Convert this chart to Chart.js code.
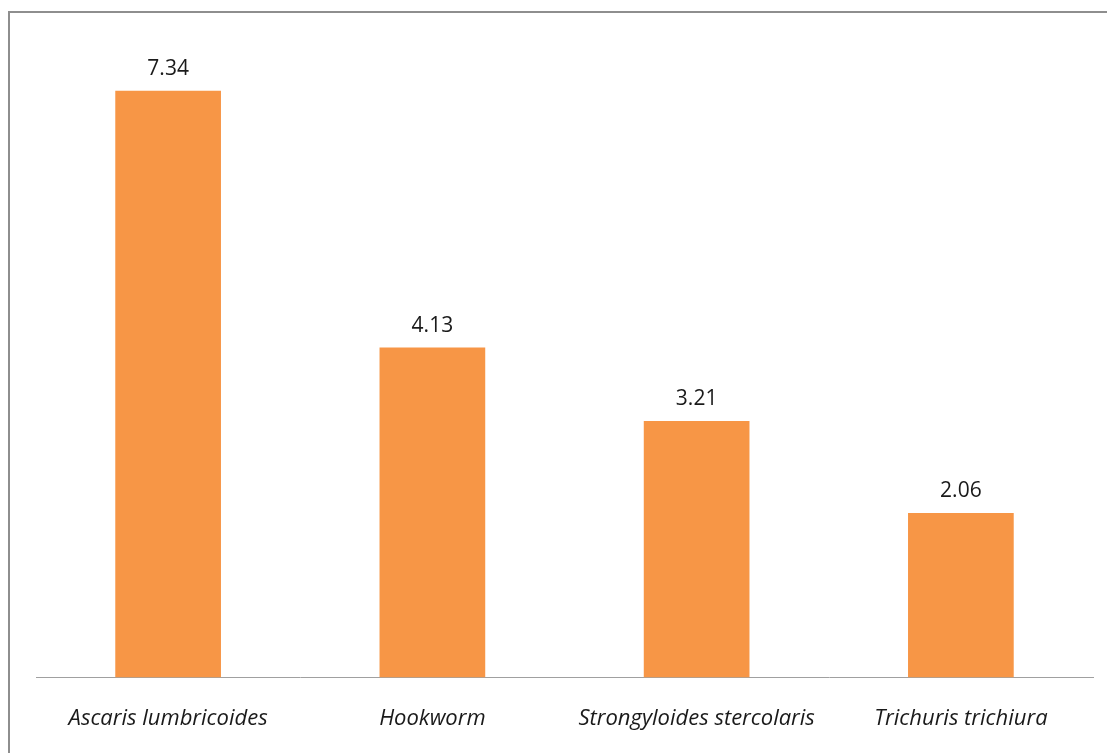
<!DOCTYPE html>
<html>
<head>
<meta charset="utf-8">
<script src="https://cdn.jsdelivr.net/npm/chart.js@4/dist/chart.umd.min.js"></script>
<style>
    body { margin: 0; background: #fff; overflow: hidden; }
    .frame {
        position: absolute; left: 8px; top: 11px;
        width: 1120px; height: 780px;
        border: 2px solid #8e8e8e;
    }
    .wrap { position: absolute; left: 0; top: 0; width: 1107px; height: 784px; }
</style>
</head>
<body>
<div class="frame"></div>
<div class="wrap"><canvas id="chart"></canvas></div>
<script>
const species = [
    "Ascaris lumbricoides",
    "Hookworm",
    "Strongyloides stercolaris",
    "Trichuris trichiura",
];
const prevalence = [7.34, 4.13, 3.21, 2.06];

// 막대 위에 값 표시
const valueLabels = {
    id: "valueLabels",
    afterDatasetsDraw(chart) {
        const { ctx } = chart;
        const meta = chart.getDatasetMeta(0);
        ctx.save();
        ctx.font = "21px 'Open Sans'";
        ctx.fillStyle = "#1a1a1a";
        ctx.textAlign = "center";
        ctx.textBaseline = "bottom";
        meta.data.forEach((bar, i) => {
            ctx.fillText(prevalence[i].toFixed(2), bar.x, bar.y - 11);
        });
        ctx.restore();
    },
};

new Chart(document.getElementById("chart"), {
    type: "bar",
    data: {
        labels: species,
        datasets: [
            {
                data: prevalence,
                backgroundColor: "#f79646",
                borderWidth: 0,
                categoryPercentage: 1,
                barPercentage: 0.4,
            },
        ],
    },
    options: {
        responsive: true,
        maintainAspectRatio: false,
        animation: false,
        layout: {
            padding: { left: 36, right: 14, top: 38, bottom: 24 },
        },
        scales: {
            x: {
                grid: { display: false, drawTicks: false },
                border: { display: true, color: "#a0a0a0", width: 1 },
                ticks: {
                    padding: 28,
                    maxRotation: 0,
                    color: "#1a1a1a",
                    font: { family: "'Open Sans'", size: 22, style: "italic" },
                },
            },
            y: {
                display: false,
                min: 0,
                max: 8,
            },
        },
        plugins: {
            legend: { display: false },
            tooltip: { enabled: false },
        },
    },
    plugins: [valueLabels],
});
</script>
</body>
</html>
